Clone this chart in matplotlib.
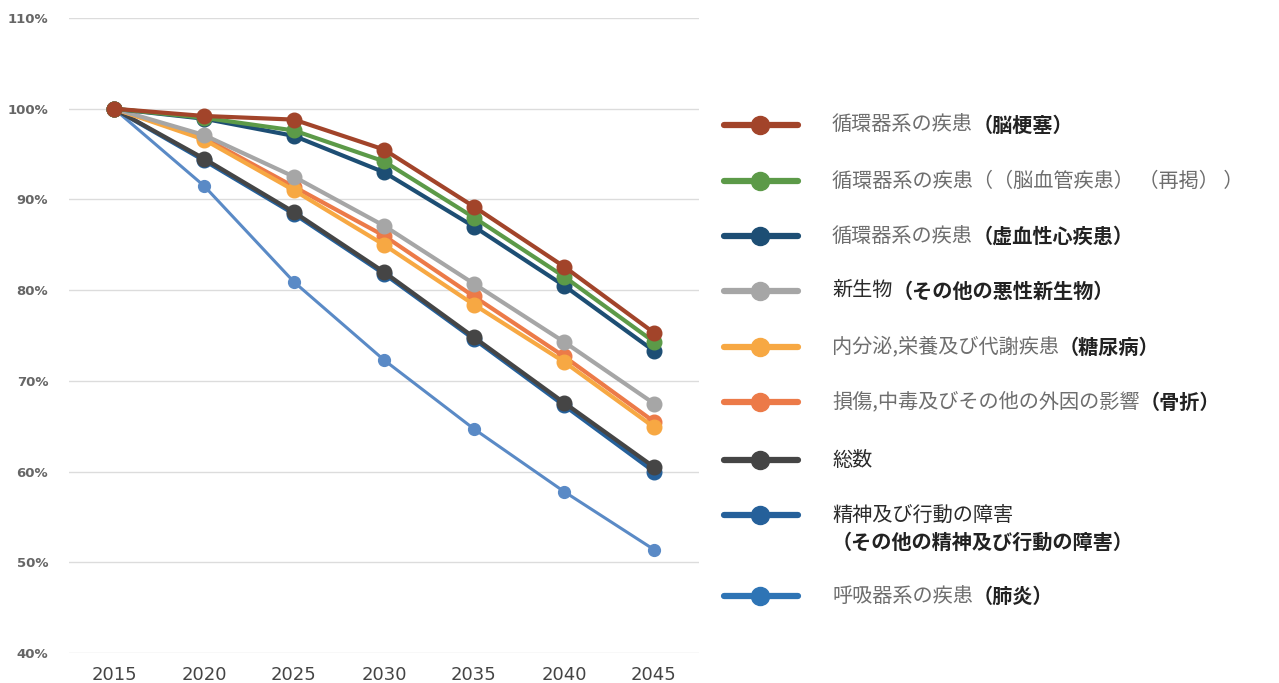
import matplotlib
matplotlib.use("Agg")
import matplotlib.pyplot as plt
from matplotlib.ticker import FixedLocator

JP_FONT = ["Noto Sans CJK JP", "DejaVu Sans"]

YEARS = ["2015", "2020", "2025", "2030", "2035", "2040", "2045"]

# index relative to 2015 (%)
brain_infarction = [100.0, 99.2, 98.8, 95.5, 89.2, 82.6, 75.3]
cerebrovascular = [100.0, 99.0, 97.6, 94.2, 88.0, 81.5, 74.3]
ischemic_heart = [100.0, 98.9, 97.0, 93.0, 87.0, 80.5, 73.3]
other_neoplasm = [100.0, 97.1, 92.5, 87.1, 80.7, 74.3, 67.5]
diabetes = [100.0, 96.6, 91.0, 85.0, 78.4, 72.1, 64.9]
fracture = [100.0, 96.8, 91.4, 86.0, 79.3, 72.7, 65.5]
total = [100.0, 94.5, 88.6, 82.0, 74.8, 67.6, 60.5]
mental = [100.0, 94.3, 88.4, 81.8, 74.6, 67.3, 60.0]
pneumonia = [100.0, 91.5, 80.9, 72.3, 64.7, 57.8, 51.4]

# (values, colour, plain label, bold label, plain colour)
SERIES = [
    (brain_infarction, "#A2442A", "循環器系の疾患", "（脳梗塞）", "#6e6e6e"),
    (cerebrovascular, "#5C9A48", "循環器系の疾患（（脳血管疾患） （再掲） ）", "", "#6e6e6e"),
    (ischemic_heart, "#1D4E74", "循環器系の疾患", "（虚血性心疾患）", "#6e6e6e"),
    (other_neoplasm, "#A6A6A6", "新生物", "（その他の悪性新生物）", "#2a2a2a"),
    (diabetes, "#F7A843", "内分泌,栄養及び代謝疾患", "（糖尿病）", "#6e6e6e"),
    (fracture, "#EC7A48", "損傷,中毒及びその他の外因の影響", "（骨折）", "#6e6e6e"),
    (total, "#454545", "総数", "", "#2a2a2a"),
    (mental, "#25609A", "精神及び行動の障害", "\n（その他の精神及び行動の障害）", "#2a2a2a"),
    (pneumonia, "#5A8AC6", "呼吸器系の疾患", "（肺炎）", "#6e6e6e"),
]
LEGEND_Y = [125, 181, 236, 291, 347, 402, 460, 515, 596]
LEGEND_HANDLE_COLORS = ["#A2442A", "#5C9A48", "#1D4E74", "#A6A6A6", "#F7A843",
                        "#EC7A48", "#454545", "#25609A", "#2E74B5"]

fig = plt.figure(figsize=(12.79, 6.83), dpi=100)
ax = fig.add_axes([69 / 1279, 30 / 683, 630 / 1279, 635 / 683])

x = list(range(len(YEARS)))
for values, color, *_ in reversed(SERIES):
    thin = values is pneumonia
    ax.plot(x, values, color=color, linewidth=2.2 if thin else 3.0,
            marker="o", markersize=8.5 if thin else 10.5,
            markeredgecolor=color, solid_capstyle="round", zorder=3)

ax.set_xlim(-0.5, 6.5)
ax.set_ylim(40, 110)
ax.yaxis.set_major_locator(FixedLocator(range(40, 111, 10)))
ax.set_yticklabels([f"{v}%" for v in range(40, 111, 10)])
ax.set_xticks(x)
ax.set_xticklabels(YEARS)
ax.grid(axis="y", color="#dcdcdc", linewidth=1.0, zorder=0)
ax.tick_params(length=0)
ax.tick_params(axis="y", pad=15)
ax.tick_params(axis="x", pad=9)
for lbl in ax.get_yticklabels():
    lbl.set_fontfamily("DejaVu Sans")
    lbl.set_fontweight("bold")
    lbl.set_fontsize(9.5)
    lbl.set_color("#666666")
for lbl in ax.get_xticklabels():
    lbl.set_fontfamily(["Liberation Sans Narrow", "DejaVu Sans"])
    lbl.set_fontsize(13)
    lbl.set_color("#444444")
for s in ax.spines.values():
    s.set_visible(False)

# hand-built legend on the right, in pixel coordinates
lax = fig.add_axes([0, 0, 1, 1])
lax.set_xlim(0, 1279)
lax.set_ylim(683, 0)
lax.axis("off")
for (values, color, plain, bold, plain_color), y, hcol in zip(SERIES, LEGEND_Y, LEGEND_HANDLE_COLORS):
    lax.plot([724, 798], [y, y], color=hcol, linewidth=4.5, solid_capstyle="round")
    lax.plot([760], [y], "o", color=hcol, markersize=13)
    t = lax.text(832, y, plain, family=JP_FONT, fontsize=14.5, color=plain_color,
                 va="center", ha="left")
    if bold.startswith("\n"):
        lax.text(832, y + 27, bold.strip(), family=JP_FONT, fontsize=14.5,
                 fontweight="bold", color="#222222", va="center", ha="left")
    elif bold:
        lax.annotate(bold, xy=(1, 0.5), xycoords=t, family=JP_FONT, fontsize=14.5,
                     fontweight="bold", color="#222222", va="center", ha="left")

fig.savefig("out.png", dpi=100)
